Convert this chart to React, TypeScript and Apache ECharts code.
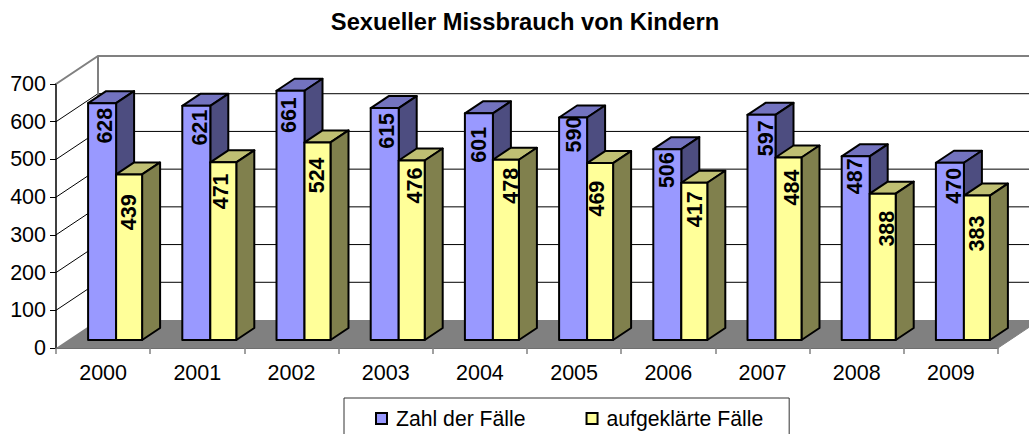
import React, { useEffect, useRef } from "react";
import * as echarts from "echarts";

const title = "Sexueller Missbrauch von Kindern";
const years = ["2000", "2001", "2002", "2003", "2004", "2005", "2006", "2007", "2008", "2009"];
const caseCounts = [628, 621, 661, 615, 601, 590, 506, 597, 487, 470];
const solvedCounts = [439, 471, 524, 476, 478, 469, 417, 484, 388, 383];
const gridValues = [100, 200, 300, 400, 500, 600];
const seriesNames = ["Zahl der Fälle", "aufgeklärte Fälle"];

// Layout only: where each value label sits relative to its own bar.
const caseLabelDown = [22.5, 21.7, 24.4, 22.8, 31.5, 17, 21, 23.5, 20, 23];
const caseLabelRight = [3, 3.5, -2, 2, 0, 0.5, 0, 4, -1, 4.5];
const solvedLabelDown = [37.8, 29, 33, 25, 26, 35.5, 26.5, 30, 35, 38];
const solvedLabelRight = [0, -2, -0.5, 3.5, 5, -3, 1, 3, 4.7, 0];

const FONT = '"Liberation Sans", Arial, sans-serif';
const DEPTH_X = 42;
const DEPTH_Y = -28;
const BAR_DX = 18;
const BAR_DY = -12;
const FLOOR_INSET_Y = 8;

function backdrop(params: any, api: any) {
  const cs = params.coordSys;
  const x0 = cs.x;
  const x1 = cs.x + cs.width;
  const y0 = cs.y + cs.height;
  const yTop = cs.y;
  const children: any[] = [];
  children.push({
    type: "polygon",
    shape: { points: [[x0, y0], [x0 + DEPTH_X, y0 + DEPTH_Y], [x1 + DEPTH_X, y0 + DEPTH_Y], [x1, y0]] },
    style: { fill: "#808080" },
  });
  for (const v of gridValues) {
    const y = api.coord([0, v])[1];
    children.push({
      type: "polyline",
      shape: { points: [[x0, y], [x0 + DEPTH_X, y + DEPTH_Y], [x1 + DEPTH_X, y + DEPTH_Y]] },
      style: { stroke: "#000", lineWidth: 1, fill: "none" },
    });
  }
  children.push({
    type: "polyline",
    shape: { points: [[x0, yTop], [x0 + DEPTH_X, yTop + DEPTH_Y], [x1 + DEPTH_X, yTop + DEPTH_Y]] },
    style: { stroke: "#808080", lineWidth: 2, fill: "none" },
  });
  children.push({
    type: "line",
    shape: { x1: x0 + DEPTH_X, y1: yTop + DEPTH_Y, x2: x0 + DEPTH_X, y2: y0 + DEPTH_Y },
    style: { stroke: "#808080", lineWidth: 2 },
  });
  children.push({
    type: "line",
    shape: { x1: x1, y1: y0, x2: x1 + DEPTH_X, y2: y0 + DEPTH_Y },
    style: { stroke: "#808080", lineWidth: 1 },
  });
  return { type: "group", children };
}

function barRenderer(
  leftOffset: number,
  width: number,
  front: string,
  top: string,
  side: string,
  labelDown: number[],
  labelRight: number[],
) {
  return (params: any, api: any) => {
    const idx = api.value(0);
    const v = api.value(1);
    const c = api.coord([idx, v]);
    const base = api.coord([idx, 0])[1] - FLOOR_INSET_Y;
    const yT = c[1] - FLOOR_INSET_Y;
    const x = c[0] + leftOffset;
    const stroke = { stroke: "#000", lineWidth: 2, lineJoin: "round" };
    return {
      type: "group",
      children: [
        { type: "polygon", shape: { points: [[x, yT], [x + width, yT], [x + width + BAR_DX, yT + BAR_DY], [x + BAR_DX, yT + BAR_DY]] }, style: { fill: top, ...stroke } },
        { type: "polygon", shape: { points: [[x + width, yT], [x + width + BAR_DX, yT + BAR_DY], [x + width + BAR_DX, base + BAR_DY], [x + width, base]] }, style: { fill: side, ...stroke } },
        { type: "rect", shape: { x, y: yT, width, height: base - yT }, style: { fill: front, ...stroke } },
        {
          type: "text",
          x: x + width / 2 + labelRight[idx],
          y: yT + labelDown[idx],
          rotation: Math.PI / 2,
          style: { text: String(v), font: `bold 21.5px ${FONT}`, fill: "#000", textAlign: "center", textVerticalAlign: "middle" },
        },
      ],
    };
  };
}

export default function App() {
  const ref = useRef<HTMLDivElement>(null);
  useEffect(() => {
    document.body.style.margin = "0";
    const chart = echarts.init(ref.current!, null, { renderer: "svg" });
    chart.setOption({
      animation: false,
      backgroundColor: "#fff",
      title: {
        text: title,
        left: 520,
        top: 5,
        textAlign: "center",
        textStyle: { fontFamily: FONT, fontWeight: "bold", fontSize: 23.7, color: "#000" },
      },
      legend: {
        data: seriesNames,
        left: 344,
        top: 398,
        orient: "horizontal",
        selectedMode: false,
        backgroundColor: "#fff",
        borderColor: "#333",
        borderWidth: 1,
        padding: [10, 26, 30, 31],
        icon: "rect",
        itemWidth: 11,
        itemHeight: 11,
        itemGap: 60,
        textStyle: { fontFamily: FONT, fontSize: 21.2, color: "#000", padding: [0, 0, 0, 4] },
      },
      grid: { left: 56, right: 31, top: 84, bottom: 86 },
      xAxis: {
        type: "category",
        data: years,
        boundaryGap: true,
        axisLine: { lineStyle: { color: "#404040", width: 1.5 } },
        axisTick: { show: true, length: 6, lineStyle: { color: "#808080", width: 1.5 } },
        axisLabel: { fontFamily: FONT, fontSize: 21.5, color: "#000", margin: 14 },
        splitLine: { show: false },
      },
      yAxis: {
        type: "value",
        min: 0,
        max: 700,
        interval: 100,
        axisLine: { show: true, lineStyle: { color: "#404040", width: 2 } },
        axisTick: { show: true, length: 6, lineStyle: { color: "#000", width: 1 } },
        axisLabel: { fontFamily: FONT, fontSize: 21.5, color: "#000", margin: 10 },
        splitLine: { show: false },
      },
      series: [
        { type: "custom", name: "__walls", silent: true, clip: false, data: [[0, 0]], renderItem: backdrop, encode: { x: 0, y: 1 } },
        {
          type: "custom",
          name: seriesNames[0],
          clip: false,
          itemStyle: { color: "#9999FF", borderColor: "#000", borderWidth: 2 },
          data: caseCounts.map((v, i) => [i, v]),
          encode: { x: 0, y: 1 },
          renderItem: barRenderer(-15, 28, "#9999FF", "#7373BF", "#4D4D80", caseLabelDown, caseLabelRight),
        },
        {
          type: "custom",
          name: seriesNames[1],
          clip: false,
          itemStyle: { color: "#FFFF99", borderColor: "#000", borderWidth: 2 },
          data: solvedCounts.map((v, i) => [i, v]),
          encode: { x: 0, y: 1 },
          renderItem: barRenderer(13, 26, "#FFFF99", "#BFBF73", "#80804D", solvedLabelDown, solvedLabelRight),
        },
      ],
    });
    return () => chart.dispose();
  }, []);
  return <div ref={ref} style={{ width: 1029, height: 434 }} />;
}
